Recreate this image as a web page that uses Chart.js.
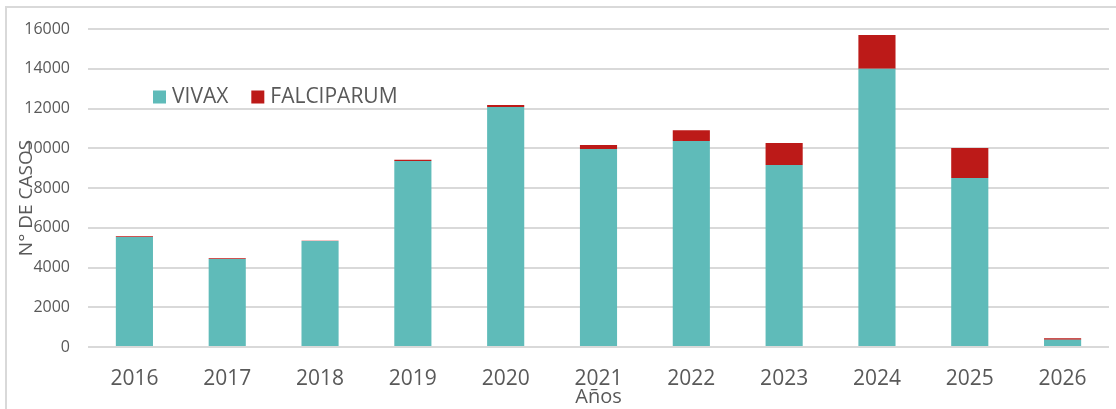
<!DOCTYPE html>
<html>
<head>
<meta charset="utf-8">
<script src="https://cdn.jsdelivr.net/npm/chart.js@4/dist/chart.umd.min.js"></script>
<style>
  html, body { margin: 0; padding: 0; background: #fff; }
  #wrap { width: 1116px; height: 409px; position: relative; }
</style>
</head>
<body>
<div id="wrap"><canvas id="casosChart"></canvas></div>
<script>
// casos por año
var anios = ['2016', '2017', '2018', '2019', '2020', '2021', '2022', '2023', '2024', '2025', '2026'];
var vivax = [5530, 4430, 5330, 9360, 12080, 9960, 10360, 9160, 14000, 8500, 370];
var falciparum = [40, 40, 10, 60, 100, 200, 550, 1100, 1700, 1510, 70];
var yTicks = [0, 2000, 4000, 6000, 8000, 10000, 12000, 14000, 16000];

var colorVivax = '#5FBBB9';
var colorFalci = '#BC1A18';
var gris = '#595959';
var fuente = "'Open Sans', 'Liberation Sans', sans-serif";

// marco, titulo del eje y y leyenda dentro del area
var extras = {
    id: 'extras',
    beforeDraw: function(chart) {
        var ctx = chart.ctx;
        ctx.save();
        ctx.fillStyle = '#fff';
        ctx.fillRect(0, 0, chart.width, chart.height);
        ctx.strokeStyle = '#D9D9D9';
        ctx.lineWidth = 2;
        ctx.beginPath();
        ctx.moveTo(6, chart.height);
        ctx.lineTo(6, 7);
        ctx.lineTo(chart.width, 7);
        ctx.stroke();
        ctx.restore();
    },
    afterDraw: function(chart) {
        var ctx = chart.ctx;
        ctx.save();
        // N° DE CASOS
        ctx.translate(27, 198);
        ctx.rotate(-Math.PI / 2);
        ctx.fillStyle = gris;
        ctx.font = '19px ' + fuente;
        ctx.textAlign = 'center';
        ctx.textBaseline = 'middle';
        ctx.fillText('N° DE CASOS', 0, 0);
        ctx.restore();

        // leyenda
        ctx.save();
        ctx.font = '21px ' + fuente;
        ctx.textBaseline = 'middle';
        var x = 153, y = 97;
        chart.data.datasets.forEach(function(ds) {
            ctx.fillStyle = ds.backgroundColor;
            ctx.fillRect(x, y - 6.5, 13, 13);
            ctx.fillStyle = gris;
            ctx.fillText(ds.label, x + 19, y);
            x += 19 + ctx.measureText(ds.label).width + 23;
        });
        ctx.restore();
    }
};

var ctx = document.getElementById('casosChart').getContext('2d');
var casosChart = new Chart(ctx, {
    type: 'bar',
    data: {
        labels: anios,
        datasets: [
            {
                label: 'VIVAX',
                data: vivax,
                backgroundColor: colorVivax,
                barPercentage: 0.4,
                categoryPercentage: 1
            },
            {
                label: 'FALCIPARUM',
                data: falciparum,
                backgroundColor: colorFalci,
                barPercentage: 0.4,
                categoryPercentage: 1
            }
        ]
    },
    options: {
        responsive: true,
        maintainAspectRatio: false,
        animation: false,
        layout: {
            padding: { top: 29, right: 7, left: 0, bottom: 0 }
        },
        plugins: {
            legend: { display: false },
            tooltip: { enabled: false }
        },
        scales: {
            x: {
                stacked: true,
                grid: { display: false },
                border: { display: false },
                ticks: {
                    color: gris,
                    font: { size: 21, family: fuente },
                    padding: 11
                },
                title: {
                    display: true,
                    text: 'Años',
                    color: gris,
                    font: { size: 20, family: fuente },
                    padding: { top: 0, bottom: 0 }
                },
                afterFit: function(scale) { scale.height = 62; }
            },
            y: {
                stacked: true,
                min: 0,
                max: 16000,
                afterBuildTicks: function(scale) {
                    scale.ticks = yTicks.map(function(v) { return { value: v }; });
                },
                grid: {
                    color: '#D9D9D9',
                    lineWidth: 2,
                    drawTicks: false
                },
                border: { display: false },
                ticks: {
                    color: gris,
                    font: { size: 16, family: fuente },
                    padding: 18,
                    callback: function(value) { return String(value); }
                },
                afterFit: function(scale) { scale.width = 88; }
            }
        }
    },
    plugins: [extras]
});
</script>
</body>
</html>
